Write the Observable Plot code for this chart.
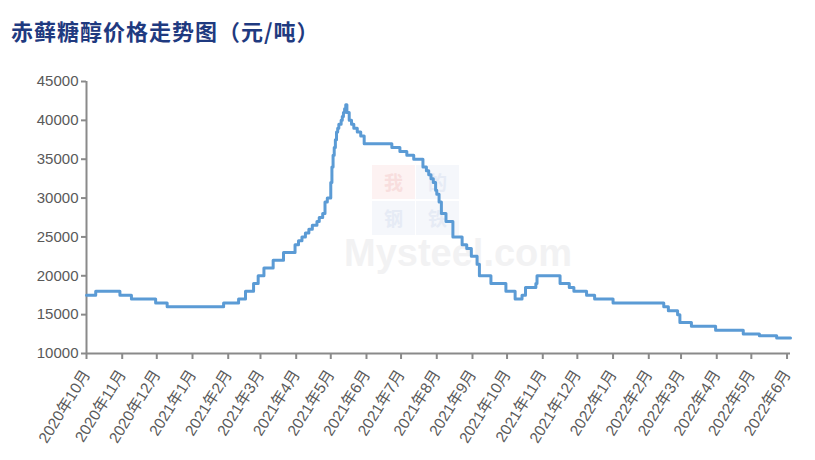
<!DOCTYPE html>
<html>
<head>
<meta charset="utf-8">
<script src="https://cdn.jsdelivr.net/npm/d3@7"></script>
<script src="https://cdn.jsdelivr.net/npm/@observablehq/plot@0.6"></script>
<style>
  html, body { margin: 0; padding: 0; background: #fff; }
  #wrap { position: relative; width: 815px; height: 460px; overflow: hidden; }
  #title { position: absolute; left: 11px; top: 19px; font-family: "Noto Sans CJK SC", sans-serif; font-weight: 700; font-size: 22px; line-height: 22px; letter-spacing: 1px; color: #1f3a80; white-space: nowrap; }
  #wm { position: absolute; left: 0; top: 0; width: 815px; height: 460px; z-index: 0; pointer-events: none; }
  #chart { position: absolute; left: 0; top: 50px; z-index: 1; }
  .sq { position: absolute; width: 43px; height: 34px; }
  .ch { position: absolute; width: 43px; text-align: center; font-family: "Noto Sans CJK SC", sans-serif; font-weight: 700; font-size: 19px; line-height: 19px; }
  .red { background: #fdf2f2; }
  .blu { background: #f5f7fb; }
  .cr { color: #f8dede; }
  .cb { color: #e6ebf5; }
  .wmt { position: absolute; left: 344px; top: 234px; font-family: "Liberation Sans", Arial, sans-serif; font-weight: 700; font-size: 38px; line-height: 38px; color: #f2f2f3; white-space: nowrap; }
</style>
</head>
<body>
<div id="wrap">
  <div id="wm">
    <div class="sq red" style="left:372px;top:165px;"></div>
    <div class="sq blu" style="left:416px;top:165px;"></div>
    <div class="sq blu" style="left:372px;top:201px;"></div>
    <div class="sq blu" style="left:416px;top:201px;"></div>
    <div class="ch cr" style="left:372px;top:172px;">我</div>
    <div class="ch cb" style="left:416px;top:172px;">的</div>
    <div class="ch cb" style="left:372px;top:208px;">钢</div>
    <div class="ch cb" style="left:416px;top:208px;">铁</div>
    <div class="wmt">Mysteel.com</div>
  </div>
  <div id="title">赤藓糖醇价格走势图（元/吨）</div>
  <div id="chart"></div>
</div>
<script>
// Change-points of the daily price series (step series), 元/吨
const dates = ["2020-10-01","2020-10-09","2020-10-30","2020-11-09","2020-11-30","2020-12-10",
  "2021-01-28","2021-02-10","2021-02-16","2021-02-23","2021-02-27","2021-03-04","2021-03-12","2021-03-21","2021-03-31",
  "2021-04-03","2021-04-06","2021-04-09","2021-04-12","2021-04-15","2021-04-19","2021-04-21","2021-04-24","2021-04-26","2021-04-28",
  "2021-05-01","2021-05-02","2021-05-03","2021-05-04","2021-05-05","2021-05-06","2021-05-07","2021-05-08","2021-05-10","2021-05-11","2021-05-12","2021-05-13","2021-05-14",
  "2021-05-15","2021-05-17","2021-05-19","2021-05-21","2021-05-24","2021-05-27","2021-05-30",
  "2021-06-23","2021-06-30","2021-07-06","2021-07-12","2021-07-20","2021-07-23","2021-07-25","2021-07-27","2021-07-29","2021-07-31",
  "2021-08-01","2021-08-03","2021-08-05","2021-08-09","2021-08-15","2021-08-23","2021-08-27","2021-08-31","2021-09-05","2021-09-07",
  "2021-09-17","2021-09-30","2021-10-08","2021-10-14","2021-10-17","2021-10-26","2021-10-27","2021-11-16","2021-11-24","2021-11-28",
  "2021-12-09","2021-12-16","2022-01-01","2022-02-14","2022-02-18","2022-02-26","2022-02-28","2022-03-10","2022-03-31","2022-04-24",
  "2022-05-08","2022-05-23","2022-06-04"];
const prices = [17500,18000,17500,17000,16500,16000,
  16500,17000,18000,19000,20000,21000,22000,23000,24000,
  24500,25000,25500,26000,26500,27000,27500,28000,29500,30000,
  32000,34000,35500,36500,37500,38500,39000,39500,40000,40500,41000,41500,42000,
  41000,40000,39500,39000,38500,38000,37000,
  36500,36000,35500,35000,34000,33500,33000,32500,32000,31000,
  30500,29500,28000,27000,25000,24000,23500,22500,21500,20000,
  19000,18000,17000,17500,18500,19000,20000,19000,18500,18000,
  17500,17000,16500,16000,15500,15000,14000,13500,13000,12500,
  12300,12000,12000];
const yTicks = [10000,15000,20000,25000,30000,35000,40000,45000];
const tickMonths = ["2020-10","2020-11","2020-12","2021-01","2021-02","2021-03","2021-04","2021-05","2021-06","2021-07",
  "2021-08","2021-09","2021-10","2021-11","2021-12","2022-01","2022-02","2022-03","2022-04","2022-05","2022-06"];
const xStart = "2020-10-01", xEnd = "2022-06-04";

const data = dates.map((d, i) => ({date: new Date(d), price: prices[i]}));
const monthDates = tickMonths.map(m => new Date(m + "-01"));
const fmt = d => `${d.getUTCFullYear()}年${d.getUTCMonth() + 1}月`;
const axisColor = "#8a8a8a";

const chart = Plot.plot({
  width: 815,
  height: 410,
  marginTop: 31,
  marginBottom: 107,
  marginLeft: 86,
  marginRight: 25,
  style: {fontFamily: "'Liberation Sans', Arial, 'Noto Sans CJK SC', sans-serif", fontSize: "15px", color: "#595959", background: "transparent"},
  x: {type: "utc", domain: [new Date(xStart), new Date(xEnd)]},
  y: {domain: [10000, 45000]},
  marks: [
    Plot.axisY({ticks: yTicks, tickFormat: d => String(d), tickSize: 5, tickPadding: 3, stroke: axisColor, strokeWidth: 2, fill: "#595959", fontSize: 15, label: null}),
    Plot.axisX({ticks: monthDates, tickFormat: fmt, tickRotate: -58, tickSize: 6, tickPadding: 12, stroke: axisColor, strokeWidth: 2, fill: "#595959", fontSize: 15.5, label: null}),
    Plot.ruleY([10000], {stroke: axisColor, strokeWidth: 2}),
    Plot.ruleX([new Date(xStart)], {stroke: axisColor, strokeWidth: 2}),
    Plot.line(data, {x: "date", y: "price", curve: "step-after", stroke: "#5b9bd5", strokeWidth: 3, strokeLinejoin: "round"})
  ]
});
document.getElementById("chart").appendChild(chart);
</script>
</body>
</html>
